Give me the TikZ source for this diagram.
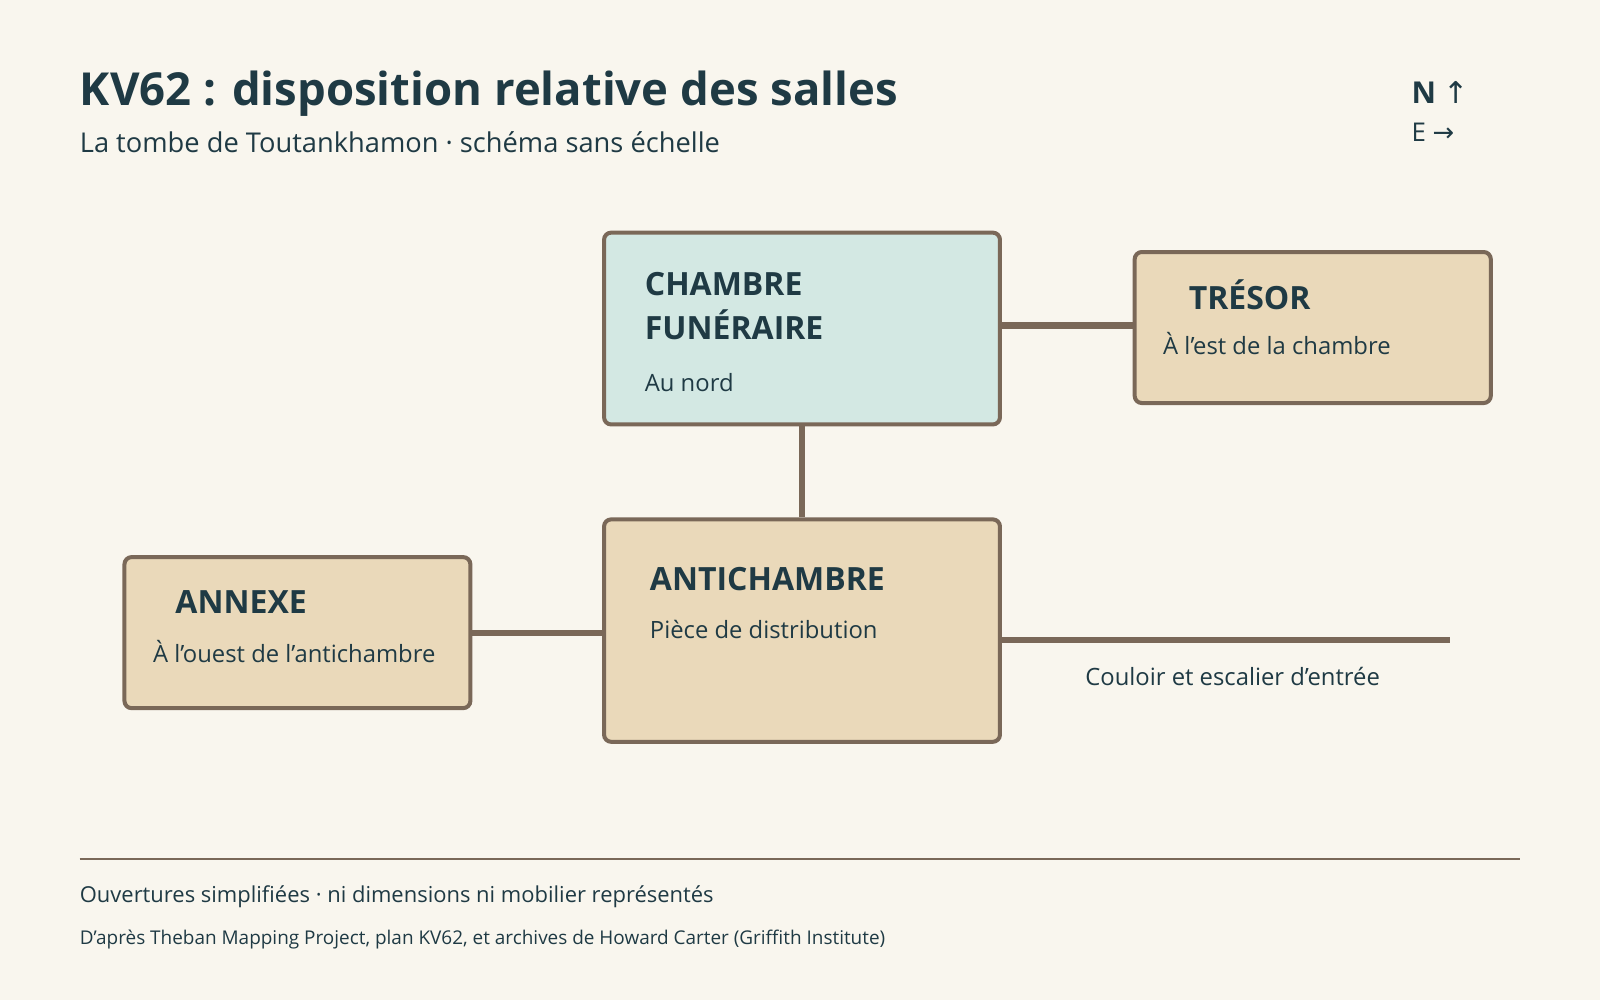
\documentclass[tikz,border=0pt]{standalone}
\usepackage{fontspec}
\setmainfont{Open Sans}
\usetikzlibrary{positioning}
\definecolor{ink}{HTML}{1F3A44}
\definecolor{wall}{HTML}{7A6858}
\definecolor{sand}{HTML}{EAD9BA}
\definecolor{teal}{HTML}{D3E8E3}
\definecolor{paper}{HTML}{F9F6EE}
\tikzset{
  room/.style={draw=wall, line width=2.8pt, rounded corners=5pt, fill=sand, anchor=north west},
  door/.style={draw=wall, line width=4.3pt},
  roomname/.style={anchor=west, text=ink, font=\fontsize{22.3}{31}\selectfont\bfseries, align=left},
  roomnote/.style={anchor=west, text=ink, font=\fontsize{16.6}{22}\selectfont}
}
\begin{document}
\begin{tikzpicture}[x=0.025cm, y=-0.025cm]
\fill[paper] (0,0) rectangle (1568,980);
\useasboundingbox (0,0) rectangle (1568,980);

% header
\node (title) [anchor=base west, text=ink, font=\fontsize{31.7}{40}\selectfont\bfseries, inner sep=0] at (78,103) {KV62 : disposition relative des salles};
\node (sub) [anchor=base west, text=ink, font=\fontsize{19}{26}\selectfont, inner sep=0] at (78,149) {La tombe de Toutankhamon · schéma sans échelle};
\node (north) [anchor=base west, text=ink, font=\fontsize{21}{26}\selectfont\bfseries, inner sep=0] at (1383,101) {N {\fontspec{DejaVu Sans}\mdseries↑}};
\node (east) [anchor=base west, text=ink, font=\fontsize{18}{22}\selectfont, inner sep=0] at (1383,139) {E {\fontspec{DejaVu Sans}→}};

% rooms
\node (burial) [room, fill=teal, minimum width=388*0.025cm, minimum height=188*0.025cm] at (590,226) {};
\node (treasury) [room, minimum width=349*0.025cm, minimum height=148*0.025cm] at (1110,245) {};
\node (ante) [room, minimum width=388*0.025cm, minimum height=218*0.025cm] at (590,507) {};
\node (annex) [room, minimum width=339*0.025cm, minimum height=148*0.025cm] at (120,544) {};
\coordinate (stairs) at (1421,627);

% openings
\draw [door] (burial.east |- 0,319) -- (treasury.west |- 0,319);
\draw [door] (burial.south) -- (ante.north);
\draw [door] (annex.east |- 0,620) -- (ante.west |- 0,620);
\draw [door] (ante.east |- stairs) -- (stairs);

% labels
\node [roomname] at (627,300) {CHAMBRE\\FUNÉRAIRE};
\node [roomnote] at (627,375) {Au nord};
\node [roomname] at (1160,289) {TRÉSOR};
\node [roomnote] at (1135,337) {À l’est de la chambre};
\node [roomname] at (632,567) {ANTICHAMBRE};
\node [roomnote] at (632,617) {Pièce de distribution};
\node [roomname] at (167,590) {ANNEXE};
\node [roomnote] at (145,638) {À l’ouest de l’antichambre};
\node [roomnote, anchor=center] at (1208,663) {Couloir et escalier d’entrée};

% footer
\draw [wall, line width=1.2pt] (78,842) -- (1490,842);
\node [anchor=base west, inner sep=0, text=ink, font=\fontsize{15.3}{20}\selectfont] at (78,884) {Ouvertures simplifiées · ni dimensions ni mobilier représentés};
\node [anchor=base west, inner sep=0, text=ink, font=\fontsize{13.2}{19}\selectfont] at (78,926) {D’après Theban Mapping Project, plan KV62, et archives de Howard Carter (Griffith Institute)};
\end{tikzpicture}
\end{document}
